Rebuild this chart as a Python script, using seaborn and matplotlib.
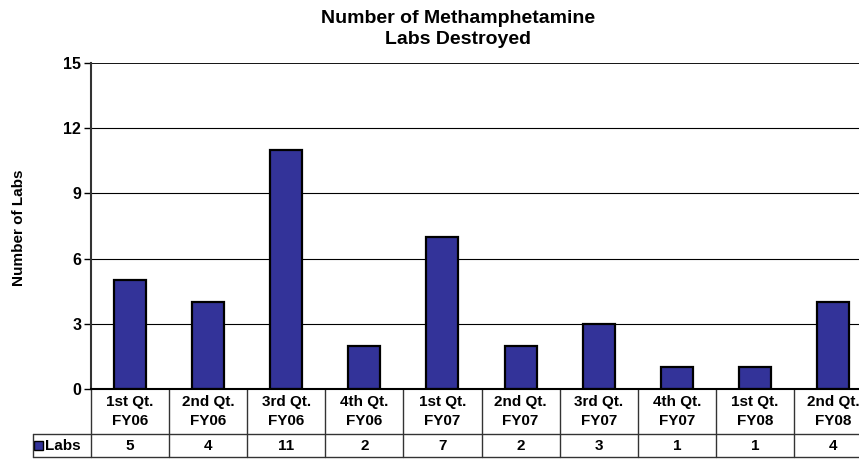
import numpy as np
import pandas as pd
import matplotlib
matplotlib.use("Agg")
import matplotlib.pyplot as plt
import matplotlib.transforms as mtransforms
import seaborn as sns

quarters = ["1st Qt.\nFY06", "2nd Qt.\nFY06", "3rd Qt.\nFY06", "4th Qt.\nFY06",
            "1st Qt.\nFY07", "2nd Qt.\nFY07", "3rd Qt.\nFY07", "4th Qt.\nFY07",
            "1st Qt.\nFY08", "2nd Qt.\nFY08"]
labs = [5, 4, 11, 2, 7, 2, 3, 1, 1, 4]
series_name = "Labs"
yticks = [0, 3, 6, 9, 12, 15]

df = pd.DataFrame({"Quarter": quarters, "Labs": labs})

sns.set_theme(style="white")
plt.rcParams["font.family"] = ["Liberation Sans", "DejaVu Sans"]
plt.rcParams["font.weight"] = "bold"
for k in ["text.color", "axes.labelcolor", "xtick.color", "ytick.color"]:
    plt.rcParams[k] = "black"

bar_color = "#333399"
fig = plt.figure(figsize=(8.59, 4.59), dpi=100)
ax = fig.add_axes([91 / 859, 1 - 389 / 459, 781 / 859, 326 / 459])

sns.barplot(data=df, x="Quarter", y="Labs", color=bar_color, saturation=1,
            edgecolor="black", linewidth=1.6, width=0.41, ax=ax)

ax.set_xlim(-0.5, len(quarters) - 0.5)
ax.set_ylim(0, 15)
ax.set_yticks(yticks)
ax.set_yticklabels([str(t) for t in yticks], fontsize=11.5, fontweight="bold")
ax.tick_params(axis="y", length=5, width=1, color="black", direction="out", left=True, pad=2)
ax.tick_params(axis="x", length=0, labelbottom=False)
ax.set_xlabel("")
ax.set_ylabel("")
fig.text(19 / 859, 1 - 228 / 459, "Number of Labs", rotation=90, ha="center", va="center",
         fontsize=11, fontweight="bold")
for t in yticks[1:-1]:
    ax.axhline(t, color="black", linewidth=0.8, zorder=0)
for s in ["top", "right"]:
    ax.spines[s].set_visible(False)
ax.axhline(15, color="black", linewidth=1.3, zorder=0)
ax.spines["left"].set_color("#333333")
ax.spines["left"].set_linewidth(1.5)
ax.spines["bottom"].set_color("black")
ax.spines["bottom"].set_linewidth(1.5)

fig.text(458 / 859, 1 - 29 / 459, "Number of Methamphetamine\nLabs Destroyed", ha="center",
         va="center", fontsize=14, fontweight="bold", linespacing=1.3)

# data table under the axes
trans = mtransforms.blended_transform_factory(ax.transData, ax.transAxes)
row1 = -45 / 326
row2 = -68 / 326
left_x = (33 - 91) / 78 - 0.5
n = len(quarters)
lkw = dict(color="#333333", linewidth=1, transform=trans, clip_on=False)
for i in range(n + 1):
    ax.plot([i - 0.5, i - 0.5], [0, row2], **lkw)
ax.plot([left_x, n - 0.5], [row1, row1], **lkw)
ax.plot([left_x, n - 0.5], [row2, row2], **lkw)
ax.plot([left_x, left_x], [row1, row2], **lkw)
for i, (q, v) in enumerate(zip(quarters, labs)):
    ax.text(i, row1 / 2, q, transform=trans, ha="center", va="center",
            fontsize=11, fontweight="bold", linespacing=1.4, clip_on=False)
    ax.text(i, (row1 + row2) / 2, str(v), transform=trans, ha="center", va="center",
            fontsize=11, fontweight="bold", clip_on=False)
sq_h = 9 / 326
ax.add_patch(plt.Rectangle((left_x + 1.5 / 78, (row1 + row2) / 2 - sq_h / 2), 9 / 78, sq_h,
                           facecolor=bar_color, edgecolor="black", linewidth=1,
                           transform=trans, clip_on=False))
ax.text(left_x + 12.5 / 78, (row1 + row2) / 2, series_name, transform=trans, ha="left", va="center",
        fontsize=11, fontweight="bold", clip_on=False)

fig.savefig("out.png", dpi=100)
